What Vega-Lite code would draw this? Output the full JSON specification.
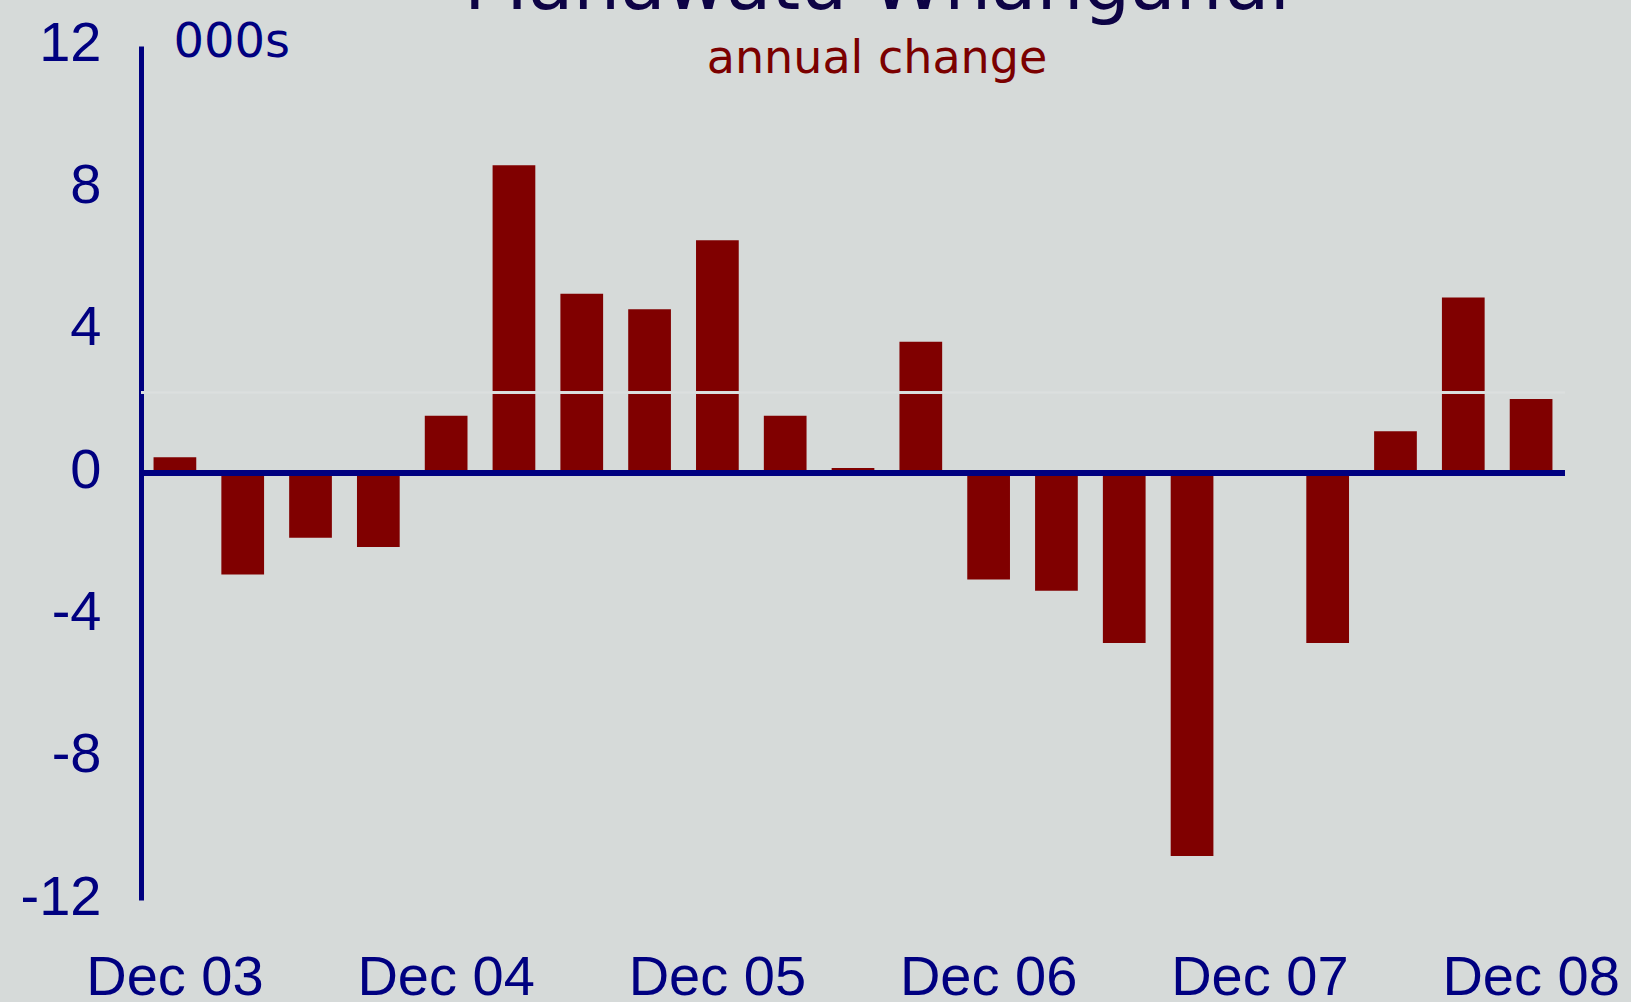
{
  "$schema": "https://vega.github.io/schema/vega-lite/v6.json",
  "autosize": {"type": "none"},
  "width": 1424,
  "height": 854,
  "padding": {"left": 141, "top": 46, "right": 66, "bottom": 102},
  "background": "#d6dad9",
  "config": {"view": {"stroke": null}},
  "title": {
    "text": "Manawatu-Whanganui",
    "subtitle": "annual change",
    "anchor": "middle",
    "frame": "group",
    "orient": "top",
    "font": "DejaVu Sans",
    "fontSize": 74,
    "fontWeight": "normal",
    "color": "#0d0345",
    "subtitleFont": "DejaVu Sans",
    "subtitleFontSize": 46,
    "subtitleColor": "#7b0000",
    "subtitlePadding": 12,
    "offset": -68,
    "dx": 24
  },
  "data": {
    "values": [
      {"q": "Dec 03", "v": 0.44},
      {"q": "Mar 04", "v": -2.85},
      {"q": "Jun 04", "v": -1.82},
      {"q": "Sep 04", "v": -2.08},
      {"q": "Dec 04", "v": 1.61},
      {"q": "Mar 05", "v": 8.65},
      {"q": "Jun 05", "v": 5.04},
      {"q": "Sep 05", "v": 4.6},
      {"q": "Dec 05", "v": 6.54},
      {"q": "Mar 06", "v": 1.61},
      {"q": "Jun 06", "v": 0.14},
      {"q": "Sep 06", "v": 3.69},
      {"q": "Dec 06", "v": -2.99},
      {"q": "Mar 07", "v": -3.31},
      {"q": "Jun 07", "v": -4.78},
      {"q": "Sep 07", "v": -10.76},
      {"q": "Dec 07", "v": 0},
      {"q": "Mar 08", "v": -4.78},
      {"q": "Jun 08", "v": 1.17},
      {"q": "Sep 08", "v": 4.93},
      {"q": "Dec 08", "v": 2.08}
    ]
  },
  "encoding": {
    "x": {
      "field": "q",
      "type": "nominal",
      "sort": null,
      "scale": {"paddingInner": 0.37, "paddingOuter": 0.185},
      "axis": {
        "title": null,
        "domain": false,
        "ticks": false,
        "labelAngle": 0,
        "labelOverlap": false,
        "labelPadding": 50,
        "labelFont": "Liberation Sans",
        "labelFontSize": 56,
        "labelColor": "#000080",
        "labelExpr": "indexof(datum.label, 'Dec') === 0 ? datum.label : ''"
      }
    }
  },
  "layer": [
    {
      "mark": {"type": "bar", "color": "#800000"},
      "encoding": {
        "y": {
          "field": "v",
          "type": "quantitative",
          "scale": {"domain": [-12, 12], "nice": false, "zero": true},
          "axis": {
            "values": [-12, -8, -4, 0, 4, 8, 12],
            "labelExpr": "'' + datum.value",
            "grid": false,
            "ticks": false,
            "domain": true,
            "domainColor": "#000080",
            "domainWidth": 5,
            "labelFont": "Liberation Sans",
            "labelFontSize": 56,
            "labelColor": "#000080",
            "labelPadding": 40,
            "labelOffset": -3,
            "title": "000s",
            "titleAngle": 0,
            "titleAlign": "left",
            "titleBaseline": "alphabetic",
            "titleX": 32,
            "titleY": 10,
            "titleFont": "DejaVu Sans",
            "titleFontSize": 48,
            "titleFontWeight": "normal",
            "titleColor": "#000080"
          }
        }
      }
    },
    {
      "mark": {"type": "rule", "color": "#dcdfde", "strokeWidth": 1.5},
      "encoding": {"y": {"datum": 2.26, "type": "quantitative"}, "x": null}
    },
    {
      "mark": {"type": "rule", "color": "#000080", "strokeWidth": 5},
      "encoding": {"y": {"datum": 0, "type": "quantitative"}, "x": null}
    }
  ]
}
